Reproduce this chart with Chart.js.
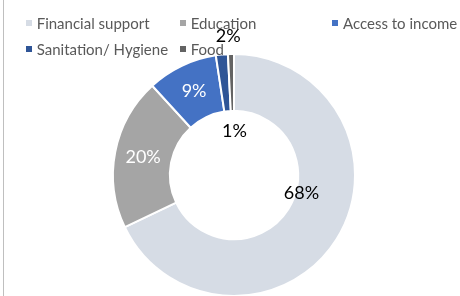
<!DOCTYPE html>
<html><head><meta charset="utf-8">
<script src="https://cdn.jsdelivr.net/npm/chart.js@4"></script>
<style>
html,body{margin:0;padding:0;background:#fff;overflow:hidden;}
#wrap{position:relative;width:460px;height:300px;}
#frame{position:absolute;left:3px;top:0;width:1px;height:300px;background:#bfbfbf;}
.lg{position:absolute;font-family:Lato, sans-serif;font-size:15px;color:#595959;white-space:nowrap;line-height:18px;height:18px;}
.lg i{position:absolute;left:-11px;top:6px;width:6px;height:6px;}
canvas{position:absolute;left:0;top:0;}
</style>
</head><body>
<div id="wrap">
<canvas id="c" width="460" height="300"></canvas>
<div id="frame"></div>
</div>
<script>
const categories = ["Financial support", "Education", "Access to income", "Sanitation/ Hygiene", "Food"];
const shares = [67.9, 20.3, 9.4, 1.6, 0.8];
const colors = ["#D6DCE5", "#A5A5A5", "#4472C4", "#2F5597", "#636363"];
const labelColors = ["#000000", "#ffffff", "#ffffff", "#000000", "#000000"];
// label placement overrides: angle clockwise from top (deg), radius as fraction of outer radius
const labelPlace = [{a:105.2, r:0.578}, null, null, {a:357.6, r:1.152}, {a:0.7, r:0.361}];
// legend grid slots
const legendCols = [36.7, 190.7, 343];
const legendRows = [22.5, 49];

const wrap = document.getElementById('wrap');
categories.forEach((name, i) => {
  const d = document.createElement('div');
  d.className = 'lg';
  d.style.left = legendCols[i % 3] + 'px';
  d.style.top = (legendRows[Math.floor(i / 3)] - 9) + 'px';
  d.textContent = name;
  const m = document.createElement('i');
  m.style.background = colors[i];
  d.appendChild(m);
  wrap.appendChild(d);
});

const labelPlugin = {
  id: 'pctLabels',
  afterDatasetsDraw(chart) {
    const ctx = chart.ctx;
    const meta = chart.getDatasetMeta(0);
    ctx.save();
    ctx.font = '18px Lato, sans-serif';
    ctx.textAlign = 'center';
    ctx.textBaseline = 'middle';
    meta.data.forEach((arc, i) => {
      const p = arc.getProps(['x','y','startAngle','endAngle','innerRadius','outerRadius'], true);
      let ang, r;
      const o = labelPlace[i];
      if (o) { ang = o.a * Math.PI / 180 - Math.PI / 2; r = o.r * p.outerRadius; }
      else { ang = (p.startAngle + p.endAngle) / 2; r = (p.innerRadius + p.outerRadius) / 2; }
      ctx.fillStyle = labelColors[i];
      ctx.fillText(Math.round(shares[i]) + '%', p.x + r * Math.cos(ang), p.y + r * Math.sin(ang));
    });
    ctx.restore();
  }
};

new Chart(document.getElementById('c'), {
  type: 'doughnut',
  data: {
    labels: categories,
    datasets: [{ data: shares, backgroundColor: colors, borderColor: '#ffffff', borderWidth: 2 }]
  },
  options: {
    responsive: false,
    animation: false,
    cutout: '53%',
    layout: { padding: { top: 53, bottom: 3, left: 8, right: 0 } },
    plugins: { legend: { display: false }, tooltip: { enabled: false } }
  },
  plugins: [labelPlugin]
});
</script>
</body></html>
